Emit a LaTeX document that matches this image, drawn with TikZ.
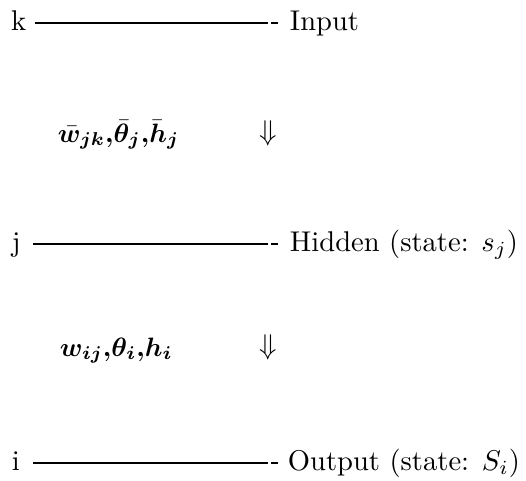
\documentclass[tikz,border=0pt]{standalone}
\usepackage{amsmath}
\usepackage{bm}
\tikzset{
  lbl/.style={anchor=base west, inner sep=0pt, outer sep=0pt},
  mathlbl/.style={anchor=base west, inner sep=0pt, outer sep=0pt, scale=0.93},
  rulel/.style={line width=0.45pt},
  hyph/.style={line width=0.6pt},
  arr/.style={anchor=base, inner sep=0pt}
}
\begin{document}
\begin{tikzpicture}[x=0.35pt, y=-0.35pt]
\useasboundingbox (0,0) rectangle (526,480);
% row 1
\node[lbl] (k) at (11,30) {k};
\coordinate (k1) at (35,23);
\coordinate (k2) at (268,23);
\coordinate (k3) at (271,23);
\coordinate (k4) at (278,23);
\node[lbl] (input) at (290,30) {Input};
\draw[rulel] (k1) -- (k2);
\draw[hyph] (k3) -- (k4);
% row 2
\node[mathlbl] (wbar) at (58,142) {$\bar{\bm w}_{\bm{jk}}{\bm{,}}\bar{\bm\theta}_{\bm j}{\bm{,}}\bar{\bm h}_{\bm j}$};
\node[arr] (a1) at (268,140) {$\Downarrow$};
% row 3
\node[lbl] (j) at (12,251) {j};
\coordinate (j1) at (33,244);
\coordinate (j2) at (268,244);
\coordinate (j3) at (271,244);
\coordinate (j4) at (278,244);
\node[lbl] (hidden) at (290,251) {Hidden (state: $s_j$)};
\draw[rulel] (j1) -- (j2);
\draw[hyph] (j3) -- (j4);
% row 4
\node[mathlbl] (w) at (60,356) {$\bm w_{\bm{ij}}{\bm{,}}\bm\theta_{\bm i}{\bm{,}}\bm h_{\bm i}$};
\node[arr] (a2) at (268,354) {$\Downarrow$};
% row 5
\node[lbl] (i) at (12,470) {i};
\coordinate (i1) at (33,463);
\coordinate (i2) at (268,463);
\coordinate (i3) at (271,463);
\coordinate (i4) at (278,463);
\node[lbl] (output) at (288,470) {Output (state: $S_i$)};
\draw[rulel] (i1) -- (i2);
\draw[hyph] (i3) -- (i4);
\end{tikzpicture}
\end{document}
